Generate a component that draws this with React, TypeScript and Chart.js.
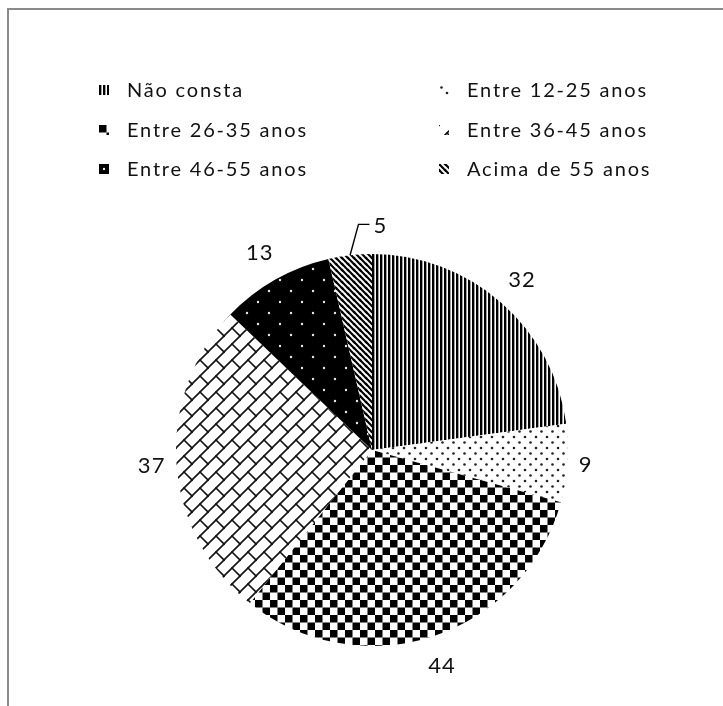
import { useEffect, useRef } from 'react';
import { Chart, registerables } from 'chart.js';

Chart.register(...registerables);

// Age groups and how many people fall in each one
const CATEGORIES = [
  'Não consta',
  'Entre 12-25 anos',
  'Entre 26-35 anos',
  'Entre 36-45 anos',
  'Entre 46-55 anos',
  'Acima de 55 anos',
];
const COUNTS = [32, 9, 44, 37, 13, 5];

const TEXT_COLOR = '#111';
const FONT_FAMILY = 'Lato, "Liberation Sans", sans-serif';

type Painter = (t: CanvasRenderingContext2D) => void;

function makeTile(w: number, h: number, paint: Painter): HTMLCanvasElement {
  const c = document.createElement('canvas');
  c.width = w;
  c.height = h;
  const t = c.getContext('2d')!;
  paint(t);
  return c;
}

// Strokes segments on a tile, repeated across the borders so the tile wraps seamlessly
function strokeWrapped(t: CanvasRenderingContext2D, size: number, segs: number[][]) {
  for (const ox of [-size, 0, size]) {
    for (const oy of [-size, 0, size]) {
      for (const [x1, y1, x2, y2] of segs) {
        t.beginPath();
        t.moveTo(x1 + ox, y1 + oy);
        t.lineTo(x2 + ox, y2 + oy);
        t.stroke();
      }
    }
  }
}

function dot(t: CanvasRenderingContext2D, x: number, y: number, r: number) {
  t.beginPath();
  t.arc(x, y, r, 0, Math.PI * 2);
  t.fill();
}

// One monochrome fill pattern per slice
function buildPatterns(ctx: CanvasRenderingContext2D): CanvasPattern[] {
  const tiles = [
    // vertical pinstripes
    makeTile(4, 4, (t) => {
      t.fillStyle = '#fff';
      t.fillRect(0, 0, 4, 4);
      t.fillStyle = '#000';
      t.fillRect(0, 0, 2, 4);
      t.fillStyle = '#a0a0a0';
      t.fillRect(2, 0, 1, 4);
    }),
    // sparse staggered dots
    makeTile(11, 11, (t) => {
      t.fillStyle = '#fff';
      t.fillRect(0, 0, 11, 11);
      t.fillStyle = '#222';
      dot(t, 2.5, 2.5, 1.3);
      dot(t, 8, 8, 1.3);
    }),
    // checkerboard
    makeTile(15, 15, (t) => {
      t.fillStyle = '#fff';
      t.fillRect(0, 0, 15, 15);
      t.fillStyle = '#000';
      t.fillRect(0, 0, 7.5, 7.5);
      t.fillRect(7.5, 7.5, 7.5, 7.5);
    }),
    // diagonal brick
    makeTile(16, 16, (t) => {
      t.fillStyle = '#fff';
      t.fillRect(0, 0, 16, 16);
      t.strokeStyle = '#111';
      t.lineWidth = 1.6;
      t.lineCap = 'square';
      strokeWrapped(t, 16, [
        [0, 16, 16, 0],
        [8, 8, 16, 16],
      ]);
    }),
    // black with white dots
    makeTile(22, 22, (t) => {
      t.fillStyle = '#000';
      t.fillRect(0, 0, 22, 22);
      t.fillStyle = '#e8e8e8';
      dot(t, 5, 5, 1.2);
      dot(t, 16, 16, 1.2);
    }),
    // backward diagonal stripes
    makeTile(6, 6, (t) => {
      t.fillStyle = '#fff';
      t.fillRect(0, 0, 6, 6);
      t.strokeStyle = '#000';
      t.lineWidth = 2.2;
      t.lineCap = 'square';
      strokeWrapped(t, 6, [[0, 0, 6, 6]]);
    }),
  ];
  return tiles.map((c) => ctx.createPattern(c, 'repeat')!);
}

// Grey frame around the whole chart
const framePlugin = {
  id: 'frame',
  afterDraw(chart: Chart) {
    const ctx = chart.ctx;
    ctx.save();
    ctx.strokeStyle = '#8a8a8a';
    ctx.lineWidth = 2;
    ctx.strokeRect(8, 9, chart.width + 40, chart.height + 40);
    ctx.restore();
  },
};

// Two-column legend above the pie
function legendPlugin(patterns: CanvasPattern[]) {
  const colX = [99, 439];
  const rowY = [90, 130, 169];
  const box = 10;
  return {
    id: 'twoColumnLegend',
    afterDraw(chart: Chart) {
      const ctx = chart.ctx;
      const labels = chart.data.labels as string[];
      ctx.save();
      ctx.font = `20px ${FONT_FAMILY}`;
      (ctx as any).letterSpacing = '1.8px';
      ctx.textBaseline = 'middle';
      ctx.textAlign = 'left';
      labels.forEach((name, i) => {
        const x = colX[i % 2];
        const y = rowY[Math.floor(i / 2)];
        ctx.save();
        ctx.translate(x, y - box / 2);
        ctx.fillStyle = patterns[i];
        ctx.fillRect(0, 0, box, box);
        ctx.restore();
        ctx.fillStyle = TEXT_COLOR;
        ctx.fillText(name, x + 28, y + 1);
      });
      ctx.restore();
    },
  };
}

// Value labels outside each slice; thin slices get a leader line
const valueLabelPlugin = {
  id: 'valueLabels',
  afterDatasetsDraw(chart: Chart) {
    const ctx = chart.ctx;
    const meta = chart.getDatasetMeta(0);
    const values = chart.data.datasets[0].data as number[];
    ctx.save();
    ctx.font = `22px ${FONT_FAMILY}`;
    (ctx as any).letterSpacing = '1px';
    ctx.fillStyle = TEXT_COLOR;
    ctx.strokeStyle = '#000';
    ctx.lineWidth = 1.4;
    ctx.textBaseline = 'middle';
    meta.data.forEach((el: any, i: number) => {
      const { x, y, startAngle, endAngle, outerRadius } = el.getProps(
        ['x', 'y', 'startAngle', 'endAngle', 'outerRadius'],
        true
      );
      const text = String(values[i]);
      const mid = (startAngle + endAngle) / 2;
      const sweep = endAngle - startAngle;
      const cos = Math.cos(mid);
      const sin = Math.sin(mid);
      if (sweep < (15 * Math.PI) / 180) {
        const sx = x + outerRadius * cos;
        const sy = y + outerRadius * sin;
        const ea = mid + (3 * Math.PI) / 180;
        const ex = x + (outerRadius + 30) * Math.cos(ea);
        const ey = y + (outerRadius + 30) * Math.sin(ea);
        ctx.beginPath();
        ctx.moveTo(sx, sy);
        ctx.lineTo(ex, ey);
        ctx.lineTo(ex + 11, ey);
        ctx.stroke();
        ctx.textAlign = 'left';
        ctx.fillText(text, ex + 15, ey + 2);
      } else {
        const w = ctx.measureText(text).width;
        const dist = outerRadius + 10 + Math.abs(cos) * (w / 2) + Math.abs(sin) * 17;
        ctx.textAlign = 'center';
        ctx.fillText(text, x + dist * cos, y + dist * sin + 1);
      }
    });
    ctx.restore();
  },
};

export default function App() {
  const ref = useRef<HTMLCanvasElement>(null);

  useEffect(() => {
    const canvas = ref.current!;
    const ctx = canvas.getContext('2d')!;
    const patterns = buildPatterns(ctx);
    const chart = new Chart(canvas, {
      type: 'pie',
      data: {
        labels: CATEGORIES,
        datasets: [
          {
            data: COUNTS,
            backgroundColor: patterns,
            borderWidth: 0,
            hoverOffset: 0,
            offset: 0,
          },
        ],
      },
      options: {
        responsive: false,
        animation: false,
        devicePixelRatio: 1,
        events: [],
        layout: { padding: { top: 254, bottom: 60, left: 176, right: 155 } },
        plugins: {
          legend: { display: false },
          tooltip: { enabled: false },
        },
      },
      plugins: [framePlugin, legendPlugin(patterns), valueLabelPlugin],
    });
    return () => chart.destroy();
  }, []);

  return (
    <div
      style={{
        position: 'fixed',
        left: 0,
        top: 0,
        width: 723,
        height: 706,
        overflow: 'hidden',
        background: '#fff',
      }}
    >
      <canvas ref={ref} width={723} height={706} style={{ display: 'block' }} />
    </div>
  );
}
